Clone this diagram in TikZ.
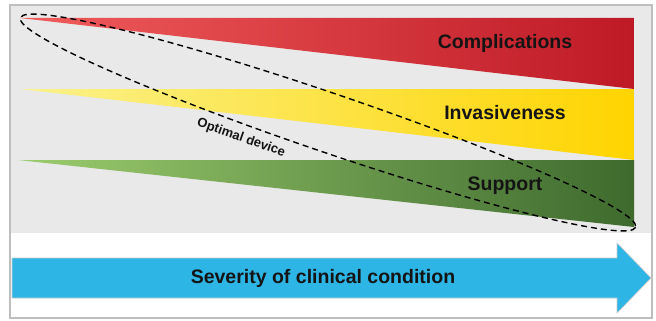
\documentclass[tikz,border=0pt]{standalone}
\usepackage{fontspec}
\setmainfont{Liberation Sans}
\definecolor{bggray}{RGB}{233,233,233}
\definecolor{framegray}{RGB}{190,190,190}
\definecolor{redL}{RGB}{240,92,92}
\definecolor{redM}{RGB}{228,38,40}
\definecolor{redR}{RGB}{190,26,38}
\definecolor{yelL}{RGB}{250,242,140}
\definecolor{yelM}{RGB}{255,234,60}
\definecolor{yelR}{RGB}{255,212,0}
\definecolor{grnL}{RGB}{156,204,110}
\definecolor{grnM}{RGB}{110,160,75}
\definecolor{grnR}{RGB}{62,106,46}
\definecolor{arrowblue}{RGB}{45,181,230}
\definecolor{txt}{RGB}{20,20,20}
\tikzset{
  barlabel/.style={font=\fontsize{19.5}{22}\selectfont\bfseries, text=txt, inner sep=0pt},
}
\begin{document}
\begin{tikzpicture}[x=1pt,y=-1pt]
\useasboundingbox (0,0) rectangle (656,321);
\fill[white] (0,0) rectangle (656,321);
% gray panel
\fill[bggray] (10,5) rectangle (652,233);
\draw[framegray, line width=1.3pt] (10,5) rectangle (652,318);
% wedges
\shade[left color=redL, middle color=redM, right color=redR] (20,18) -- (634,18) -- (634,89) -- cycle;
\shade[left color=yelL, middle color=yelM, right color=yelR] (20,89) -- (634,89) -- (634,160) -- cycle;
\shade[left color=grnL, middle color=grnM, right color=grnR] (18,160) -- (634,160) -- (634,227) -- cycle;
% labels
\node[barlabel] (compl) at (505,43) {Complications};
\node[barlabel] (inva) at (505,113) {Invasiveness};
\node[barlabel] (supp) at (505,186) {Support};
% optimal device ellipse
\draw[black, line width=1.4pt, dash pattern=on 6pt off 4pt] (328,122.5) ellipse [x radius=325, y radius=29.5, rotate=-18.8];
\node[rotate=-19.4, font=\fontsize{13}{15}\selectfont\bfseries, text=txt, inner sep=0pt] (opt) at (241,138) {Optimal device};
% severity arrow
\fill[arrowblue, draw=framegray!80, line width=0.6pt] (12,258) -- (617,258) -- (617,243) -- (651,278) -- (617,313) -- (617,298) -- (12,298) -- cycle;
\node[font=\fontsize{19.5}{22}\selectfont\bfseries, text=txt, inner sep=0pt] (sev) at (323,278) {Severity of clinical condition};
\end{tikzpicture}
\end{document}
